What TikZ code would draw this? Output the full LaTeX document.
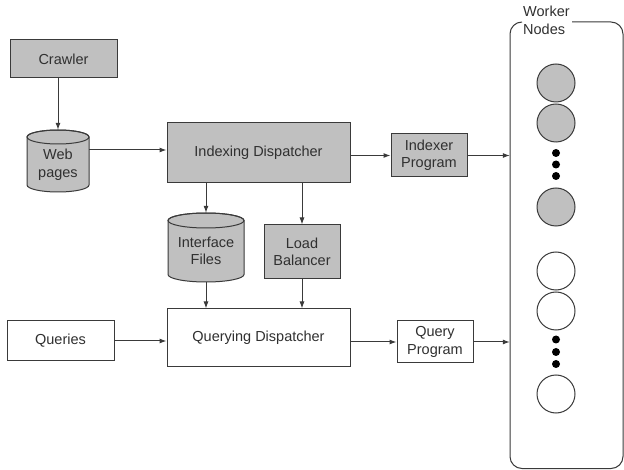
\documentclass[tikz,border=0pt]{standalone}
\usepackage{fontspec}
\setmainfont{Liberation Sans}
\usetikzlibrary{arrows.meta,calc}
\definecolor{fillg}{HTML}{C0C0C0}
\definecolor{linec}{HTML}{3A3A3A}
\definecolor{textc}{HTML}{303030}
\begin{document}
\begin{tikzpicture}[x=1pt,y=-1pt,
  font=\fontsize{14.5}{17.5}\selectfont,
  every node/.style={text=textc, inner sep=0pt, align=center},
  gbox/.style={draw=linec, line width=1pt, fill=fillg, rectangle},
  wbox/.style={draw=linec, line width=1pt, fill=white, rectangle},
  ghost/.style={rectangle},
  cylbody/.style={draw=linec, line width=1pt, fill=fillg},
  gcirc/.style={circle, draw=linec, line width=1pt, fill=fillg, minimum size=38pt},
  wcirc/.style={circle, draw=linec, line width=1pt, fill=white, minimum size=38pt},
  dotnode/.style={circle, fill=black, minimum size=8pt},
  conn/.style={draw=linec, line width=1pt, -{Latex[length=7pt,width=5pt]}},
  frame/.style={draw=linec, line width=1pt}]
\useasboundingbox (0,0) rectangle (624,470);
\fill[white] (0,0) rectangle (624,470);

% boxes
\node[gbox, minimum width=107pt, minimum height=38pt] (crawler) at (63.5,59) {Crawler};
\node[gbox, minimum width=183pt, minimum height=60pt] (idx) at (258.5,153) {Indexing Dispatcher};
\node[gbox, minimum width=76pt, minimum height=43pt] (indexer) at (429,155.5) {Indexer\\Program};
\node[gbox, minimum width=76pt, minimum height=54pt] (lb) at (302,252) {Load\\Balancer};
\node[wbox, minimum width=183pt, minimum height=58pt] (qd) at (258.5,338) {Querying Dispatcher};
\node[wbox, minimum width=107pt, minimum height=40pt] (queries) at (60.5,341) {Queries};
\node[wbox, minimum width=76pt, minimum height=42pt] (qp) at (435,342) {Query\\Program};

% web pages cylinder
\node[ghost, minimum width=62pt, minimum height=62pt] (web) at (58,161) {};
\path[cylbody] (27,137) -- (27,185) arc[start angle=180,end angle=360,x radius=31pt,y radius=7pt]
  -- (89,137) arc[start angle=0,end angle=180,x radius=31pt,y radius=7pt] -- cycle;
\draw[frame] (58,137) ellipse[x radius=31pt,y radius=7pt];
\node (webtext) at (58,165) {Web\\pages};

% interface files cylinder
\node[ghost, minimum width=76pt, minimum height=69pt] (iface) at (206,247.5) {};
\path[cylbody] (168,220.5) -- (168,274.5) arc[start angle=180,end angle=360,x radius=38pt,y radius=7.5pt]
  -- (244,220.5) arc[start angle=0,end angle=180,x radius=38pt,y radius=7.5pt] -- cycle;
\draw[frame] (206,220.5) ellipse[x radius=38pt,y radius=7.5pt];
\node (ifacetext) at (206,251) {Interface\\Files};

% worker frame
\node[ghost, minimum width=113pt, minimum height=446.5pt] (workers) at (566.5,245.25) {};
\draw[frame] (572,22) -- (611,22) arc[start angle=90,end angle=0,radius=12pt]
  -- (623,456.5) arc[start angle=0,end angle=-90,radius=12pt]
  -- (522,468.5) arc[start angle=270,end angle=180,radius=12pt]
  -- (510,34) arc[start angle=180,end angle=90,radius=12pt];
\node[anchor=north west, align=left, font=\fontsize{14.5}{18}\selectfont] (wlabel) at (523,6) {Worker\\Nodes};

% worker circles
\node[gcirc] (g1) at (556,83) {};
\node[gcirc] (g2) at (556,123) {};
\node[dotnode] (gd1) at (556,153) {};
\node[dotnode] (gd2) at (556,164.5) {};
\node[dotnode] (gd3) at (556,176) {};
\node[gcirc] (g3) at (556,207) {};
\node[wcirc] (c1) at (556,271) {};
\node[wcirc] (c2) at (556,311) {};
\node[dotnode] (cd1) at (556,339.5) {};
\node[dotnode] (cd2) at (556,352) {};
\node[dotnode] (cd3) at (556,364) {};
\node[wcirc] (c3) at (556,394) {};

% connectors
\draw[conn] (crawler.south -| web) -- (web.north);
\draw[conn] (web.east |- 0,150) -- (idx.west |- 0,150);
\draw[conn] (idx.east |- indexer.west) -- (indexer.west);
\draw[conn] (indexer.east) -- (workers.west |- indexer.east);
\draw[conn] (idx.south -| iface) -- (iface.north);
\draw[conn] (idx.south -| lb) -- (lb.north);
\draw[conn] (iface.south) -- (qd.north -| iface);
\draw[conn] (lb.south) -- (qd.north -| lb);
\draw[conn] (queries.east) -- (qd.west |- queries.east);
\draw[conn] (qd.east |- qp.west) -- (qp.west);
\draw[conn] (qp.east) -- (workers.west |- qp.east);
\end{tikzpicture}
\end{document}
